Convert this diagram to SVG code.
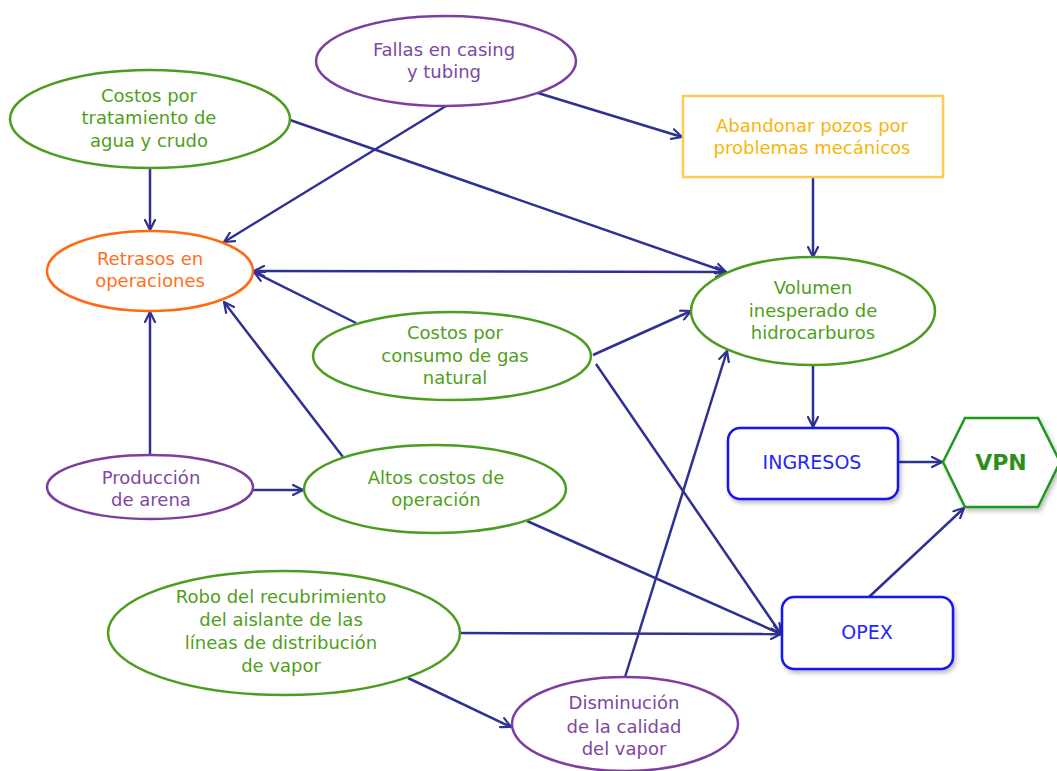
<svg xmlns="http://www.w3.org/2000/svg" width="1057" height="771" viewBox="0 0 1057 771">
  <defs>
    <marker id="arrow" viewBox="0 0 12 12" refX="11" refY="6" markerWidth="12" markerHeight="12" markerUnits="userSpaceOnUse" orient="auto-start-reverse">
      <path d="M1,1 L11,6 L1,11" fill="none" stroke="#2e3192" stroke-width="2.2" stroke-linecap="round" stroke-linejoin="round"/>
    </marker>
    <filter id="shadow" x="-10%" y="-10%" width="130%" height="140%">
      <feDropShadow dx="2" dy="3" stdDeviation="2" flood-color="#000" flood-opacity="0.25"/>
    </filter>
  </defs>
  <style>
    text { font-family: "DejaVu Sans", "Liberation Sans", sans-serif; font-size: 18px; text-anchor: middle; }
    .green ellipse { fill: #fff; stroke: #4a9d1e; stroke-width: 2.5; }
    .green text { fill: #4f9f1a; }
    .purple ellipse { fill: #fff; stroke: #7d3f9f; stroke-width: 2.5; }
    .purple text { fill: #7e47a3; }
    .orange ellipse { fill: #fff; stroke: #ff6a10; stroke-width: 2.5; }
    .orange text { fill: #ff6f1a; }
    .yellow rect { fill: #fff; stroke: #ffca55; stroke-width: 2.5; }
    .yellow text { fill: #f5b60a; }
    .blue rect { fill: #fff; stroke: #1212ee; stroke-width: 2.5; }
    .blue text { fill: #2424ff; font-size: 19px; }
    .conn line { stroke: #2e3192; stroke-width: 2.5; fill: none; marker-end: url(#arrow); }
  </style>
  <rect width="1057" height="771" fill="#fff"/>

  <g class="conn" id="connectors">
    <line x1="150" y1="168" x2="150" y2="230"/>
    <line x1="446" y1="106" x2="224" y2="242"/>
    <line x1="538" y1="93" x2="682" y2="137"/>
    <line x1="290" y1="120" x2="726" y2="272"/>
    <line x1="726" y1="272" x2="254" y2="271" marker-start="url(#arrow)"/>
    <line x1="356" y1="323" x2="254" y2="272"/>
    <line x1="343" y1="457" x2="224" y2="302"/>
    <line x1="150" y1="455" x2="150" y2="312"/>
    <line x1="253" y1="490" x2="303" y2="490"/>
    <line x1="593" y1="355" x2="691" y2="311"/>
    <line x1="596" y1="364" x2="781" y2="634"/>
    <line x1="527" y1="521" x2="781" y2="634"/>
    <line x1="460" y1="633" x2="781" y2="634"/>
    <line x1="408" y1="678" x2="511" y2="727"/>
    <line x1="625" y1="677" x2="727" y2="351"/>
    <line x1="813" y1="177" x2="813" y2="257"/>
    <line x1="813" y1="365" x2="813" y2="427"/>
    <line x1="898" y1="462" x2="942" y2="462"/>
    <line x1="869" y1="597" x2="964" y2="508"/>
  </g>

  <g id="fallas" class="purple">
    <ellipse cx="446" cy="61" rx="130" ry="45"/>
    <text x="444" y="56">Fallas en casing</text>
    <text x="444" y="78">y tubing</text>
  </g>

  <g id="costos-tratamiento" class="green">
    <ellipse cx="150" cy="119" rx="140" ry="49"/>
    <text x="149" y="102">Costos por</text>
    <text x="149" y="124">tratamiento de</text>
    <text x="149" y="147">agua y crudo</text>
  </g>

  <g id="retrasos" class="orange">
    <ellipse cx="150" cy="271" rx="103" ry="40"/>
    <text x="150" y="265">Retrasos en</text>
    <text x="150" y="287">operaciones</text>
  </g>

  <g id="abandonar" class="yellow">
    <rect x="683" y="96" width="260" height="81"/>
    <text x="812" y="132">Abandonar pozos por</text>
    <text x="812" y="154">problemas mecánicos</text>
  </g>

  <g id="volumen" class="green">
    <ellipse cx="813" cy="311" rx="122" ry="54"/>
    <text x="813" y="294">Volumen</text>
    <text x="813" y="317">inesperado de</text>
    <text x="813" y="339">hidrocarburos</text>
  </g>

  <g id="costos-gas" class="green">
    <ellipse cx="452" cy="356" rx="139" ry="44"/>
    <text x="455" y="339">Costos por</text>
    <text x="455" y="362">consumo de gas</text>
    <text x="455" y="384">natural</text>
  </g>

  <g id="produccion" class="purple">
    <ellipse cx="150" cy="487" rx="103" ry="32"/>
    <text x="151" y="484">Producción</text>
    <text x="151" y="506">de arena</text>
  </g>

  <g id="altos-costos" class="green">
    <ellipse cx="435" cy="489" rx="131" ry="44"/>
    <text x="436" y="484">Altos costos de</text>
    <text x="436" y="506">operación</text>
  </g>

  <g id="robo" class="green">
    <ellipse cx="284" cy="633" rx="176" ry="62"/>
    <text x="281" y="603">Robo del recubrimiento</text>
    <text x="281" y="626">del aislante de las</text>
    <text x="281" y="649">líneas de distribución</text>
    <text x="281" y="672">de vapor</text>
  </g>

  <g id="disminucion" class="purple">
    <ellipse cx="625" cy="724" rx="113" ry="47"/>
    <text x="624" y="709">Disminución</text>
    <text x="624" y="733">de la calidad</text>
    <text x="624" y="755">del vapor</text>
  </g>

  <g id="ingresos" class="blue">
    <rect x="728" y="428" width="170" height="71" rx="12" filter="url(#shadow)"/>
    <text x="812" y="469">INGRESOS</text>
  </g>

  <g id="opex" class="blue">
    <rect x="782" y="597" width="171" height="72" rx="12" filter="url(#shadow)"/>
    <text x="867" y="639">OPEX</text>
  </g>

  <g id="vpn">
    <polygon points="943,462 965,418 1038,418 1060,462 1038,507 965,507" fill="#fff" stroke="#1f9a1f" stroke-width="2.5" filter="url(#shadow)"/>
    <text x="1001" y="470" style="font-size:22px;font-weight:bold;fill:#2f8f1a">VPN</text>
  </g>
</svg>
